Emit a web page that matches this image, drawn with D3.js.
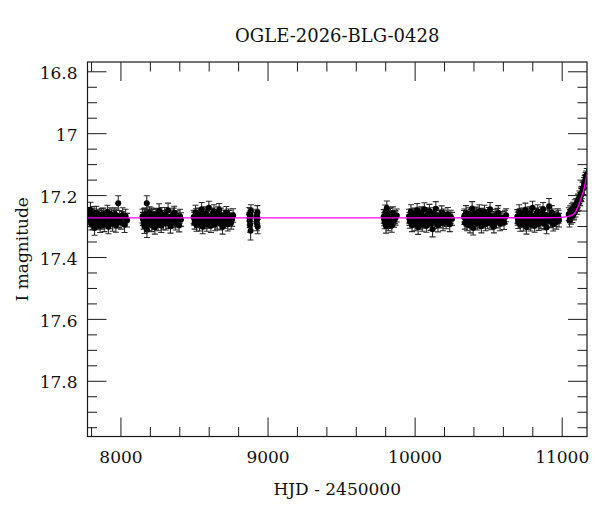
<!DOCTYPE html>
<html><head><meta charset="utf-8">
<script src="https://cdn.jsdelivr.net/npm/d3@7/dist/d3.min.js"></script>
<style>body{margin:0;background:#fff}svg{display:block}</style>
</head><body>
<svg id="c" width="600" height="512"></svg>
<script>
const title = "OGLE-2026-BLG-0428";
const xLabel = "HJD - 2450000";
const yLabel = "I magnitude";
const xMajor = [8000, 9000, 10000, 11000];
const yMajor = [16.8, 17, 17.2, 17.4, 17.6, 17.8];
const yMajorLabels = ["16.8", "17", "17.2", "17.4", "17.6", "17.8"];

// [HJD-2450000, I mag, error] per observing season
const season1 = [[7785,17.262,.022],[7791,17.281,.021],[7796,17.247,.024],[7802,17.293,.020],[7807,17.274,.022],[7813,17.288,.023],[7819,17.266,.021],[7824,17.306,.024],[7830,17.279,.020],[7836,17.258,.022],[7843,17.291,.021],[7849,17.283,.025],[7856,17.266,.020],[7862,17.299,.022],[7869,17.271,.021],[7876,17.287,.023],[7883,17.262,.020],[7890,17.296,.022],[7897,17.276,.024],[7904,17.281,.021],[7911,17.255,.022],[7918,17.302,.023],[7925,17.273,.020],[7932,17.288,.021],[7940,17.267,.022],[7947,17.293,.024],[7954,17.279,.021],[7962,17.261,.020],[7969,17.298,.022],[7977,17.285,.021],[7985,17.226,.024],[7993,17.272,.022],[8004,17.289,.021],[8015,17.264,.023],[8028,17.296,.025],[8045,17.281,.022],
  [7788,17.275,.021],[7799,17.268,.022],[7810,17.281,.021],[7821,17.259,.022],[7833,17.287,.021],[7846,17.271,.020],[7859,17.278,.022],[7872,17.264,.021],[7886,17.284,.022],[7900,17.269,.021],[7915,17.278,.022],[7929,17.262,.021],[7943,17.281,.020],[7958,17.272,.022],[7973,17.266,.021],[7989,17.283,.022],[8010,17.274,.021],[8035,17.268,.022]];
const season2 = [[8150,17.268,.022],[8179,17.226,.024],[8158,17.289,.021],[8163,17.301,.023],[8168,17.262,.020],[8174,17.285,.022],[8180,17.312,.025],[8186,17.274,.021],[8192,17.293,.022],[8199,17.258,.020],[8206,17.281,.023],[8213,17.297,.021],[8220,17.269,.022],[8227,17.286,.024],[8234,17.305,.021],[8241,17.263,.020],[8249,17.279,.022],[8256,17.294,.021],[8263,17.251,.023],[8271,17.283,.020],[8278,17.299,.022],[8286,17.271,.021],[8293,17.288,.024],[8301,17.262,.022],[8308,17.292,.021],[8316,17.277,.020],[8324,17.249,.023],[8332,17.286,.021],[8340,17.301,.022],[8348,17.268,.020],[8357,17.282,.024],[8366,17.257,.021],[8376,17.291,.022],[8387,17.274,.023],[8399,17.298,.021],[8412,17.279,.022],
  [8152,17.277,.021],[8161,17.265,.022],[8171,17.282,.021],[8183,17.269,.022],[8196,17.279,.020],[8210,17.263,.021],[8224,17.284,.022],[8238,17.274,.021],[8252,17.266,.022],[8267,17.281,.021],[8282,17.262,.022],[8297,17.278,.021],[8312,17.269,.020],[8328,17.285,.022],[8344,17.276,.021],[8361,17.264,.022],[8381,17.281,.021],[8405,17.268,.022]];
const season3 = [[8498,17.271,.022],[8504,17.289,.021],[8510,17.256,.023],[8517,17.297,.020],[8524,17.278,.022],[8531,17.263,.021],[8538,17.292,.024],[8545,17.284,.021],[8552,17.246,.022],[8559,17.302,.023],[8566,17.275,.020],[8573,17.287,.022],[8580,17.259,.021],[8587,17.295,.022],[8594,17.272,.024],[8601,17.241,.021],[8608,17.283,.020],[8615,17.299,.022],[8622,17.266,.021],[8629,17.281,.023],[8636,17.253,.022],[8643,17.294,.021],[8650,17.276,.020],[8657,17.288,.022],[8664,17.262,.024],[8671,17.248,.021],[8678,17.291,.022],[8686,17.279,.021],[8694,17.303,.023],[8702,17.268,.020],[8711,17.285,.022],[8720,17.258,.021],[8730,17.294,.022],[8741,17.274,.024],[8753,17.289,.021],[8766,17.266,.022],
  [8501,17.276,.021],[8514,17.266,.022],[8527,17.283,.021],[8541,17.271,.022],[8556,17.262,.020],[8570,17.279,.021],[8584,17.268,.022],[8598,17.286,.021],[8612,17.274,.022],[8626,17.263,.021],[8640,17.281,.022],[8654,17.269,.021],[8668,17.277,.020],[8682,17.264,.022],[8698,17.283,.021],[8716,17.272,.022],[8735,17.266,.021],[8759,17.279,.022]];
const season4 = [[8876,17.262,.022],[8879,17.284,.021],[8881,17.297,.023],[8883,17.271,.022],[8885,17.315,.030],[8887,17.252,.021],[8925,17.268,.022],[8927,17.291,.024],[8929,17.279,.021],[8931,17.256,.022],[8933,17.302,.023],
  [8878,17.276,.021],[8884,17.265,.022],[8926,17.279,.021],[8930,17.271,.022]];
const season5 = [[9790,17.269,.022],[9796,17.288,.021],[9801,17.256,.024],[9806,17.301,.022],[9811,17.242,.023],[9816,17.278,.021],[9821,17.293,.022],[9826,17.263,.020],[9832,17.285,.023],[9838,17.271,.021],[9845,17.298,.022],[9852,17.259,.021],[9860,17.282,.022],[9870,17.274,.023],[9879,17.266,.021],
  [9793,17.278,.021],[9804,17.268,.022],[9814,17.284,.021],[9824,17.274,.022],[9835,17.262,.021],[9848,17.279,.022],[9865,17.271,.021]];
const season6 = [[9962,17.268,.022],[9968,17.286,.021],[9975,17.254,.023],[9982,17.297,.021],[9989,17.276,.022],[9996,17.262,.020],[10003,17.291,.024],[10010,17.281,.021],[10017,17.249,.022],[10024,17.304,.023],[10031,17.273,.021],[10038,17.288,.022],[10045,17.258,.020],[10052,17.295,.022],[10059,17.271,.024],[10066,17.246,.021],[10073,17.284,.022],[10080,17.299,.021],[10087,17.265,.023],[10094,17.279,.020],[10101,17.252,.022],[10108,17.293,.021],[10115,17.275,.022],[10122,17.310,.025],[10129,17.262,.021],[10136,17.286,.022],[10144,17.244,.023],[10151,17.281,.021],[10159,17.297,.022],[10167,17.268,.020],[10175,17.284,.022],[10184,17.256,.021],[10193,17.292,.023],[10203,17.273,.022],[10214,17.288,.021],[10226,17.262,.022],[10239,17.294,.024],[10254,17.277,.021],
  [9965,17.277,.021],[9979,17.266,.022],[9993,17.283,.021],[10007,17.271,.022],[10021,17.262,.020],[10035,17.279,.021],[10049,17.268,.022],[10063,17.285,.021],[10077,17.274,.022],[10091,17.263,.021],[10105,17.281,.022],[10119,17.269,.021],[10133,17.277,.020],[10148,17.264,.022],[10163,17.283,.021],[10180,17.272,.022],[10198,17.266,.021],[10220,17.279,.022],[10246,17.270,.021]];
const season7 = [[10336,17.272,.022],[10342,17.289,.021],[10349,17.257,.023],[10356,17.294,.021],[10363,17.276,.022],[10370,17.261,.020],[10377,17.298,.024],[10384,17.282,.021],[10391,17.243,.022],[10398,17.306,.023],[10405,17.274,.021],[10412,17.287,.022],[10419,17.259,.020],[10426,17.291,.022],[10433,17.271,.024],[10440,17.252,.021],[10447,17.284,.022],[10454,17.301,.021],[10461,17.266,.023],[10468,17.279,.020],[10475,17.255,.022],[10482,17.294,.021],[10489,17.276,.022],[10497,17.288,.021],[10505,17.263,.023],[10513,17.246,.022],[10521,17.291,.021],[10530,17.279,.022],[10539,17.302,.020],[10548,17.268,.022],[10558,17.285,.021],[10569,17.257,.023],[10581,17.293,.022],[10594,17.274,.021],[10608,17.289,.022],[10622,17.265,.021],
  [10339,17.266,.021],[10353,17.278,.022],[10367,17.284,.021],[10381,17.269,.022],[10395,17.276,.020],[10409,17.263,.021],[10423,17.281,.022],[10437,17.272,.021],[10451,17.266,.022],[10465,17.285,.021],[10479,17.270,.022],[10493,17.277,.021],[10509,17.268,.020],[10525,17.282,.022],[10543,17.274,.021],[10563,17.265,.022],[10587,17.279,.021],[10615,17.271,.022]];
const season8 = [[10698,17.269,.022],[10704,17.287,.021],[10711,17.254,.023],[10718,17.296,.021],[10725,17.275,.022],[10732,17.262,.020],[10739,17.292,.024],[10746,17.281,.021],[10753,17.248,.022],[10760,17.303,.023],[10767,17.274,.021],[10774,17.288,.022],[10781,17.258,.020],[10788,17.294,.022],[10795,17.271,.024],[10802,17.241,.021],[10809,17.283,.022],[10816,17.299,.021],[10823,17.266,.023],[10830,17.279,.020],[10837,17.253,.022],[10844,17.293,.021],[10851,17.276,.022],[10858,17.287,.021],[10865,17.261,.023],[10873,17.246,.022],[10881,17.291,.021],[10889,17.279,.022],[10897,17.305,.020],[10905,17.268,.022],[10914,17.236,.025],[10923,17.284,.021],[10932,17.257,.023],[10942,17.294,.022],[10952,17.273,.021],[10963,17.288,.022],[10974,17.265,.021],[10982,17.281,.022],
  [10701,17.276,.021],[10715,17.266,.022],[10729,17.283,.021],[10743,17.271,.022],[10757,17.262,.020],[10771,17.279,.021],[10785,17.268,.022],[10799,17.285,.021],[10813,17.274,.022],[10827,17.263,.021],[10841,17.281,.022],[10855,17.269,.021],[10869,17.277,.020],[10885,17.264,.022],[10901,17.283,.021],[10918,17.272,.022],[10937,17.266,.021],[10958,17.279,.022],[10978,17.270,.021]];
const season9 = [[11048,17.262,.021],[11053,17.281,.022],[11058,17.255,.020],[11063,17.272,.022],[11068,17.249,.021],[11073,17.266,.023],[11078,17.244,.021],[11084,17.258,.022],[11089,17.236,.021],[11094,17.249,.022],[11099,17.231,.020],[11104,17.241,.021],[11110,17.219,.022],[11115,17.228,.021],[11120,17.207,.020],[11126,17.213,.021],[11131,17.196,.022],[11137,17.192,.020],[11142,17.179,.021],[11147,17.176,.022],[11152,17.163,.020],[11157,17.158,.021],[11162,17.147,.020],[11166,17.143,.021],[11170,17.134,.020],
  [11056,17.268,.021],[11081,17.252,.022],[11107,17.232,.021],[11134,17.200,.021],[11160,17.155,.021]];

// model curve
const modelT = [7776, 9000, 10000, 10900, 11000, 11050, 11080, 11102, 11124, 11147, 11160, 11172];
const modelM = [17.2735, 17.2735, 17.2735, 17.2733, 17.272, 17.268, 17.262, 17.247, 17.221, 17.188, 17.163, 17.13];

const svg = d3.select("#c");
const L = 87.5, R = 587, T = 62, B = 436.5;
const x = d3.scaleLinear().domain([7776, 11172]).range([L, R]);
const y = d3.scaleLinear().domain([16.77, 17.98]).range([T, B]);
const font = "'DejaVu Serif', serif";
const ink = "#1a1a1a";

svg.append("defs").append("clipPath").attr("id", "clip")
  .append("rect").attr("x", L).attr("y", T).attr("width", R - L).attr("height", B - T);

const xMinor = d3.range(7800, 11172, 200).filter(v => !xMajor.includes(v));
const yMinor = d3.range(16.8, 17.98, 0.05).map(v => +v.toFixed(2)).filter(v => !yMajor.some(m => Math.abs(m - v) < 1e-6));

function styleAxis(g) {
  g.select(".domain").remove();
  g.selectAll(".tick line").attr("stroke", ink).attr("stroke-width", 1);
  g.selectAll(".tick text").attr("fill", "#111").style("font-family", font).style("font-size", "17px");
}

// bottom
svg.append("g").attr("transform", `translate(0,${B})`)
  .call(d3.axisBottom(x).tickValues(xMajor).tickFormat(d3.format("d")).tickSize(-19).tickPadding(14.5)).call(styleAxis);
svg.append("g").attr("transform", `translate(0,${B})`)
  .call(d3.axisBottom(x).tickValues(xMinor).tickFormat("").tickSize(-9.5)).call(styleAxis);
// top
svg.append("g").attr("transform", `translate(0,${T})`)
  .call(d3.axisTop(x).tickValues(xMajor).tickFormat("").tickSize(-19)).call(styleAxis);
svg.append("g").attr("transform", `translate(0,${T})`)
  .call(d3.axisTop(x).tickValues(xMinor).tickFormat("").tickSize(-9.5)).call(styleAxis);
// left
svg.append("g").attr("transform", `translate(${L},0)`)
  .call(d3.axisLeft(y).tickValues(yMajor).tickFormat((d, i) => yMajorLabels[i]).tickSize(-19).tickPadding(10)).call(styleAxis)
  .selectAll(".tick text").attr("dy", "0.42em");
svg.append("g").attr("transform", `translate(${L},0)`)
  .call(d3.axisLeft(y).tickValues(yMinor).tickFormat("").tickSize(-9.5)).call(styleAxis);
// right
svg.append("g").attr("transform", `translate(${R},0)`)
  .call(d3.axisRight(y).tickValues(yMajor).tickFormat("").tickSize(-19)).call(styleAxis);
svg.append("g").attr("transform", `translate(${R},0)`)
  .call(d3.axisRight(y).tickValues(yMinor).tickFormat("").tickSize(-9.5)).call(styleAxis);

// data
const seasons = [season1, season2, season3, season4, season5, season6, season7, season8, season9];
const pts = seasons.flat();
const plot = svg.append("g").attr("clip-path", "url(#clip)");
const cap = 3;
const eb = plot.append("g").attr("stroke", "#2a2a2a").attr("stroke-width", 1.1).attr("fill", "none");
eb.selectAll("path").data(pts).join("path")
  .attr("d", d => {
    const px = x(d[0]), y1 = y(d[1] - d[2]), y2 = y(d[1] + d[2]);
    return `M${px},${y1}V${y2}M${px - cap},${y1}H${px + cap}M${px - cap},${y2}H${px + cap}`;
  });
plot.append("g").selectAll("circle").data(pts).join("circle")
  .attr("cx", d => x(d[0])).attr("cy", d => y(d[1])).attr("r", 3).attr("fill", "#000");

// model
const model = modelT.map((t, i) => [t, modelM[i]]);
plot.append("path").datum(model)
  .attr("d", d3.line().x(d => x(d[0])).y(d => y(d[1])).curve(d3.curveMonotoneX))
  .attr("fill", "none").attr("stroke", "#ff00ff").attr("stroke-width", 1.4);

// frame
svg.append("rect").attr("x", L).attr("y", T).attr("width", R - L).attr("height", B - T)
  .attr("fill", "none").attr("stroke", ink).attr("stroke-width", 1.2);

// texts
svg.append("text").attr("x", (L + R) / 2).attr("y", 42).attr("text-anchor", "middle")
  .style("font-family", font).style("font-size", "18px").attr("fill", "#111").text(title);
svg.append("text").attr("x", (L + R) / 2).attr("y", 495).attr("text-anchor", "middle")
  .style("font-family", font).style("font-size", "17px").attr("fill", "#111").text(xLabel);
svg.append("text").attr("transform", `translate(27.5,${(T + B) / 2}) rotate(-90)`).attr("text-anchor", "middle")
  .style("font-family", font).style("font-size", "17px").attr("fill", "#111").text(yLabel);
</script>
</body></html>
